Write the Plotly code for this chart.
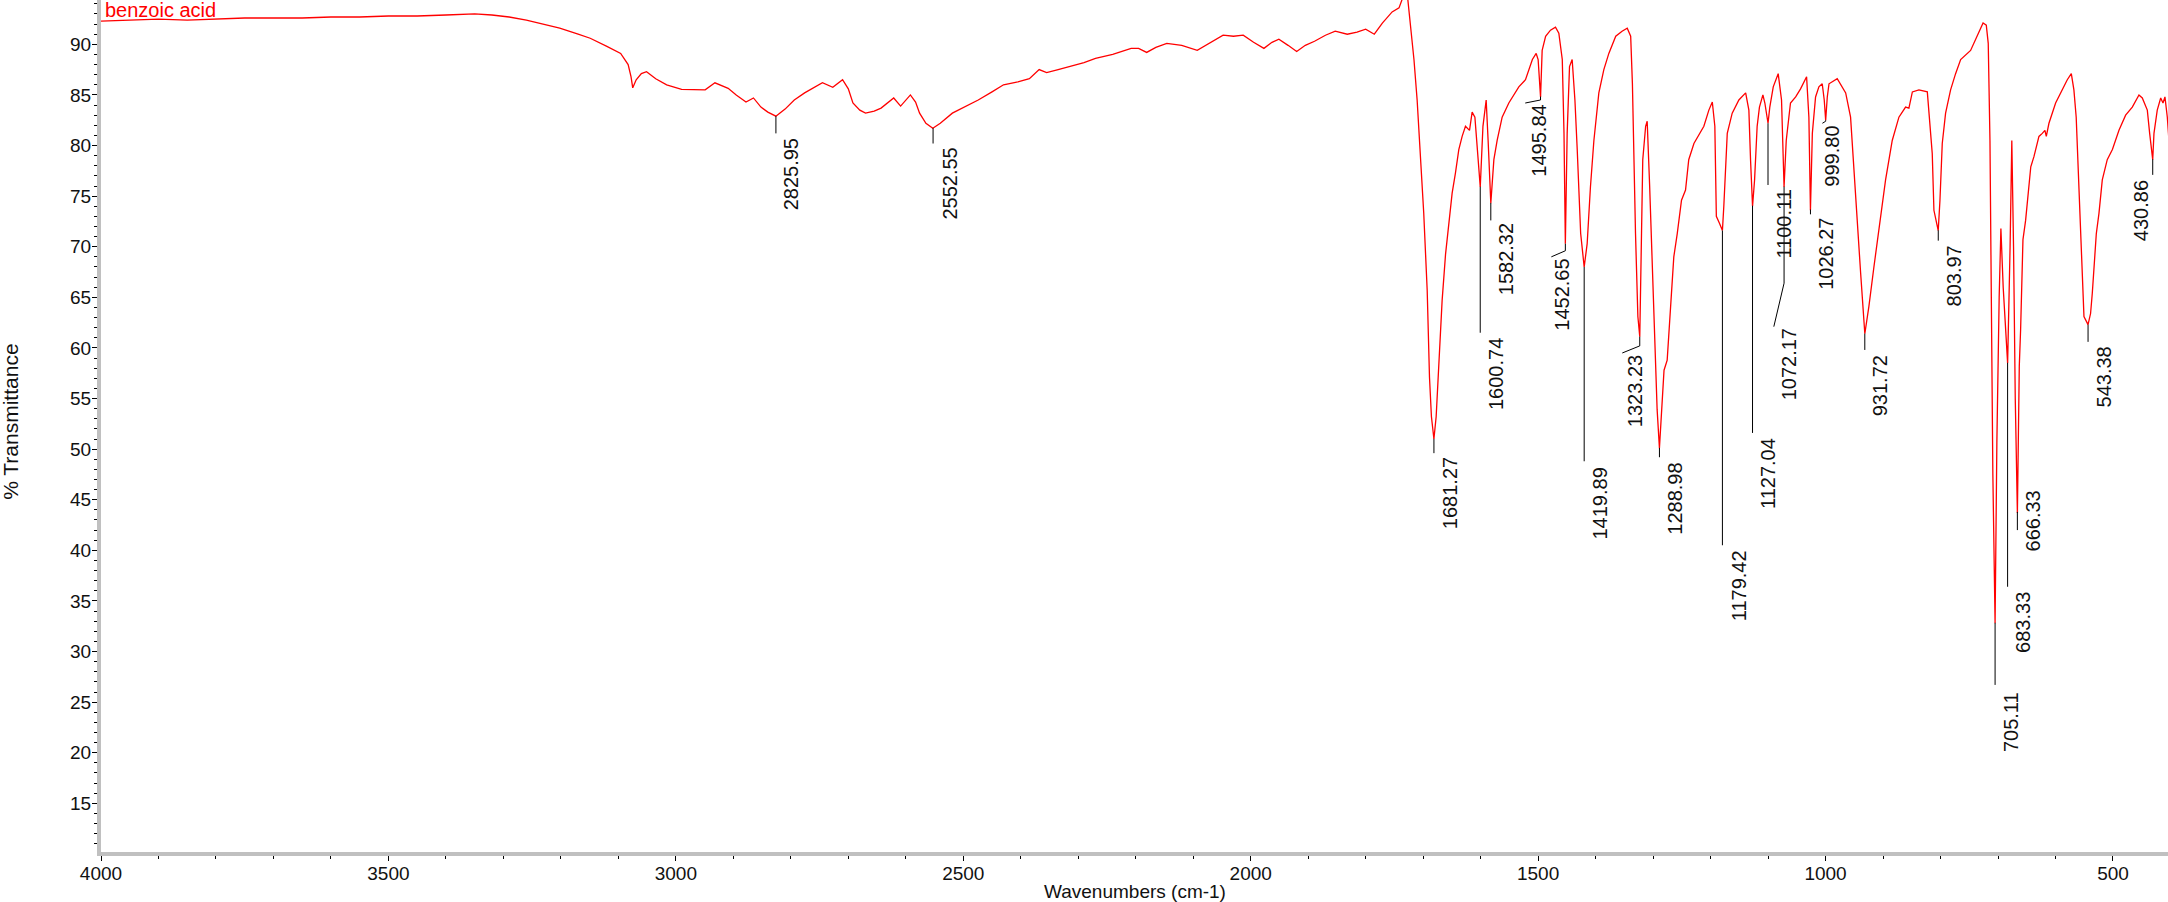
import numpy as np
import plotly.graph_objects as go

# ---- spectrum data (wavenumber cm-1, %T) ----
wavenumber = [
    4000, 3950, 3900, 3850, 3800, 3750, 3700, 3650, 3600, 3550, 3500, 3450, 3400, 3350, 3320,
    3290, 3260, 3230, 3202, 3170, 3149, 3120, 3096, 3083, 3078, 3075, 3069, 3060, 3051, 3035,
    3016, 2990, 2960, 2949, 2932, 2909, 2895, 2878, 2865, 2852, 2840, 2826, 2810, 2794, 2776,
    2745, 2727, 2710, 2700, 2692, 2680, 2670, 2655, 2643, 2621, 2609, 2592, 2583, 2576, 2565,
    2553, 2540, 2519, 2495, 2474, 2450, 2430, 2405, 2385, 2368, 2355, 2335, 2315, 2290, 2270,
    2240, 2208, 2195, 2181, 2165, 2146, 2120, 2093, 2070, 2048, 2030, 2013, 1995, 1977, 1963,
    1951, 1935, 1920, 1905, 1889, 1870, 1853, 1832, 1815, 1800, 1785, 1771, 1760, 1754, 1742,
    1733, 1727, 1722, 1716, 1710.5, 1704.7, 1699, 1693, 1689, 1685.6, 1681.3, 1677.4, 1672.8,
    1667, 1661, 1655.4, 1649.6, 1643.8, 1638, 1632.2, 1626.4, 1619.4, 1614.8, 1610, 1606,
    1600.7, 1596, 1590.4, 1587, 1582.3, 1577, 1571.3, 1562.6, 1551, 1533.6, 1522, 1510, 1503.4,
    1500, 1495.8, 1493, 1487, 1478.5, 1469.8, 1464, 1458, 1455, 1452.65, 1449.5, 1445.4, 1440.8,
    1436, 1432, 1426, 1419.9, 1414.7, 1409, 1403, 1394.4, 1385.7, 1377, 1365, 1354, 1345, 1339,
    1336, 1330.6, 1326.5, 1323.2, 1320.7, 1318, 1313, 1310.3, 1306, 1301.6, 1297, 1293, 1289,
    1285.4, 1281, 1275.5, 1269.7, 1264, 1258, 1250.6, 1243.6, 1238, 1229, 1217.5, 1211.7, 1203,
    1197, 1192.6, 1190, 1184.4, 1179.4, 1177, 1171, 1162.4, 1150.8, 1139, 1133.4, 1130.5, 1127,
    1123.5, 1119, 1115, 1109, 1105.6, 1100.1, 1097, 1091, 1082.4, 1076.6, 1072.2, 1068.4, 1061,
    1052, 1043.5, 1033, 1029, 1026.3, 1023, 1017.4, 1011.6, 1005.8, 1002.3, 999.8, 997, 994,
    979.7, 965, 956.5, 947.8, 939, 931.7, 924.6, 915.9, 907, 895.6, 884, 872.4, 860.8, 855, 849,
    837.6, 823, 819, 814.4, 811.5, 804, 801, 797, 791.2, 782.5, 773.8, 765, 747.7, 736, 726,
    720.4, 717, 714, 712, 709, 705.1, 702, 698, 695, 691, 687, 683.3, 679, 676, 673, 670, 666.3,
    663, 660.7, 656.6, 652, 649, 643, 637.5, 628.8, 623, 618.4, 616, 611.4, 599.8, 588, 579.5,
    572.5, 568, 564, 560.4, 556.3, 553.4, 550.5, 543.4, 539, 536, 533, 529, 524.4, 518.6, 510,
    501, 489.6, 478, 466.4, 454.8, 449, 440.3, 436.2, 430.9, 428.7, 423, 417, 413, 409.6, 405.5,
    402.6, 400,
]
transmittance = [
    92.3, 92.4, 92.5, 92.4, 92.5, 92.6, 92.6, 92.6, 92.7, 92.7, 92.8, 92.8, 92.9, 93.0, 92.9,
    92.7, 92.4, 92.0, 91.6, 91.0, 90.6, 89.8, 89.1, 88.0, 86.8, 85.7, 86.5, 87.1, 87.3, 86.6,
    86.0, 85.55, 85.5, 85.5, 86.2, 85.65, 85.0, 84.3, 84.7, 83.8, 83.3, 82.9, 83.6, 84.5, 85.2,
    86.2, 85.75, 86.5, 85.6, 84.2, 83.5, 83.2, 83.4, 83.7, 84.7, 83.9, 85.0, 84.3, 83.2, 82.2,
    81.7, 82.2, 83.2, 83.9, 84.5, 85.3, 86.0, 86.3, 86.6, 87.5, 87.2, 87.5, 87.8, 88.2, 88.6,
    89.0, 89.6, 89.6, 89.2, 89.7, 90.1, 89.9, 89.4, 90.2, 90.9, 90.8, 90.9, 90.2, 89.6, 90.2,
    90.5, 89.9, 89.3, 89.9, 90.3, 90.9, 91.3, 91.0, 91.2, 91.5, 91.0, 92.1, 92.8, 93.2, 93.6,
    95.0, 94.6, 92.1, 88.5, 84.5, 79.2, 73.3, 65.7, 57.1, 53.2, 51.0, 53.2, 58.1,
    64.7, 69.3, 72.0, 75.3, 77.3, 79.6, 80.9, 81.9, 81.5, 83.3, 82.8, 79.6,
    75.9, 81.9, 84.5, 80.5, 74.3, 78.6, 80.5, 82.8, 84.2, 85.8, 86.5, 88.5, 89.1,
    88.5, 84.8, 89.4, 90.8, 91.4, 91.7, 91.1, 88.5, 81.2, 70.3, 81.2, 87.8, 88.5,
    84.5, 79.6, 71.3, 68.0, 70.3, 75.9, 80.5, 85.2, 87.5, 89.1, 90.8, 91.3, 91.6, 90.8,
    86.1, 71.3, 63.1, 61.1, 71.3, 78.6, 81.9, 82.4, 76.0, 68.5, 58.8, 53.9, 50.1,
    53.9, 57.8, 58.8, 63.7, 69.0, 71.3, 74.6, 75.6, 78.6, 80.2, 81.4, 81.9, 83.5,
    84.3, 81.9, 73.0, 72.3, 71.6, 74.0, 81.2, 83.2, 84.5, 85.2, 83.5, 78.6, 74.0,
    76.6, 81.9, 83.8, 85.0, 84.2, 82.2, 83.8, 85.8, 87.1, 84.5, 75.9, 80.5, 84.2,
    84.8, 85.6, 86.8, 82.8, 73.6, 81.2, 84.8, 85.8, 86.1, 84.5, 82.5, 84.8, 86.1,
    86.6, 85.2, 82.8, 74.6, 67.4, 61.4, 64.1, 68.0, 72.0, 76.6, 80.5, 82.8, 83.8, 83.7, 85.3,
    85.5, 85.3, 82.8, 79.2, 73.6, 71.6, 74.6, 80.2, 83.2, 85.5, 87.1, 88.5, 89.4, 90.8, 92.1,
    91.9, 90.1, 80.5, 66.0, 47.6, 32.8, 50.7, 65.0, 71.8, 66.0, 62.0, 58.5, 70.0, 80.5, 70.0, 55.0, 43.7,
    58.2, 61.8, 70.7, 72.6, 74.3, 77.9, 78.9, 80.9, 81.2, 81.5, 80.9, 82.2, 84.2, 85.6, 86.5,
    87.1, 85.5, 82.8, 77.3, 71.3, 65.7, 63.1, 62.3, 63.4, 65.4, 68.0, 71.3, 73.3, 76.6, 78.6,
    79.6, 81.5, 83.0, 83.8, 85.0, 84.7, 83.5, 81.2, 78.6, 81.2, 83.5, 84.7, 84.2, 84.8, 82.8,
    80.5, 80.0,
]

# ---- peak picks ----
peak_wn = [2825.95, 2552.55, 1681.27, 1600.74, 1582.32, 1495.84, 1452.65, 1419.89, 1323.23,
           1288.98, 1179.42, 1127.04, 1100.11, 1072.17, 1026.27, 999.80, 931.72, 803.97,
           705.11, 683.33, 666.33, 543.38, 430.86]

# label layout: tick end / label start (%T), label anchor x and leader end x (cm-1)
tick_end = [81.2, 80.2, 49.6, 61.5, 72.6, 84.5, 69.6, 48.8, 60.2,
            49.2, 40.5, 51.6, 76.1, 66.4, 73.2, 82.4, 59.8, 70.6,
            26.7, 36.4, 42.0, 60.6, 77.1]
label_top = [80.9, 80.0, 49.4, 61.2, 72.5, 84.2, 69.0, 48.4, 59.5,
             48.9, 40.2, 51.3, 75.8, 62.1, 73.1, 82.2, 59.5, 70.3,
             26.2, 36.1, 46.1, 60.3, 76.8]
label_x = [2825.95, 2552.55, 1681.27, 1600.74, 1582.32, 1527.0, 1486.6, 1419.89, 1359.0,
           1288.98, 1179.42, 1127.04, 1100.11, 1092.0, 1026.27, 1016.8, 931.72, 803.97,
           705.11, 683.33, 666.33, 543.38, 430.86]
leader_x = [None, None, None, None, None, 1522.4, 1477.0, None, 1353.6,
            None, None, None, None, 1090.0, None, 1005.5, None, None,
            None, None, None, None, None]
label_anchor = ["left"] * 22 + ["right"]
label_shift = [3] * 22 + [2]

x_ticks = [4000, 3500, 3000, 2500, 2000, 1500, 1000, 500]
y_ticks = [15, 20, 25, 30, 35, 40, 45, 50, 55, 60, 65, 70, 75, 80, 85, 90]

FONT = "Arial, 'Liberation Sans', sans-serif"

wn_arr = np.array(wavenumber)
t_arr = np.array(transmittance)
peak_T = np.interp(peak_wn, wn_arr[::-1], t_arr[::-1])

fig = go.Figure()
fig.add_trace(go.Scatter(x=wavenumber, y=transmittance, mode="lines",
                         line=dict(color="#ff0000", width=1.3), showlegend=False,
                         hoverinfo="x+y"))

# peak leader lines
lx, ly = [], []
for w, pt, te, lt, hx in zip(peak_wn, peak_T, tick_end, label_top, leader_x):
    if hx is not None:
        lx += [w, w, hx, None]
        ly += [pt, te, lt, None]
    else:
        lx += [w, w, None]
        ly += [pt, te, None]
fig.add_trace(go.Scatter(x=lx, y=ly, mode="lines", line=dict(color="#000000", width=1),
                         showlegend=False, hoverinfo="skip"))

for w, lt, lxp, anc, sh in zip(peak_wn, label_top, label_x, label_anchor, label_shift):
    fig.add_annotation(x=lxp, y=lt, xref="x", yref="y", text=f"{w:.2f}", showarrow=False,
                       textangle=-90, xanchor=anc, yanchor="top", xshift=sh,
                       font=dict(family=FONT, size=20, color="#111111"))

fig.add_annotation(x=0, y=1, xref="paper", yref="paper", text="benzoic acid", showarrow=False,
                   xanchor="left", yanchor="top", xshift=2, yshift=3,
                   font=dict(family=FONT, size=20, color="#ff0000"))
fig.add_annotation(x=0.5, y=-50 / 852, xref="paper", yref="paper", text="Wavenumbers (cm-1)",
                   showarrow=False, xanchor="center", yanchor="bottom", yshift=-2,
                   font=dict(family=FONT, size=19, color="#111111"))
fig.add_annotation(x=-0.0435, y=0.505, xref="paper", yref="paper", text="% Transmittance",
                   showarrow=False, xanchor="center", yanchor="middle", textangle=-90,
                   font=dict(family=FONT, size=21, color="#111111"))

fig.update_layout(
    width=2168, height=902,
    margin=dict(l=101, r=0, t=0, b=50),
    paper_bgcolor="white", plot_bgcolor="white",
    font=dict(family=FONT, size=19, color="#111111"),
    showlegend=False,
)
fig.update_xaxes(range=[4000, 404.3], tickvals=x_ticks, ticks="outside", ticklen=5,
                 tickcolor="#000000", tickwidth=1, showline=True, linecolor="#c0c0c0",
                 linewidth=4, showgrid=False, zeroline=False, ticklabelstandoff=-4,
                 minor=dict(dtick=100, tick0=0, ticks="outside", ticklen=3, tickcolor="#000000"),
                 tickfont=dict(family=FONT, size=19, color="#111111"))
fig.update_yaxes(range=[10.19, 94.38], tickvals=y_ticks, ticks="outside", ticklen=5,
                 tickcolor="#000000", tickwidth=1, showline=True, linecolor="#c0c0c0",
                 linewidth=4, showgrid=False, zeroline=False, ticklabelstandoff=-3,
                 minor=dict(dtick=1, tick0=0, ticks="outside", ticklen=3, tickcolor="#000000"),
                 tickfont=dict(family=FONT, size=19, color="#111111"))

fig.write_html("out.html", config={"displayModeBar": False},
               post_script="document.body.style.margin='0';document.body.style.overflow='hidden';")
